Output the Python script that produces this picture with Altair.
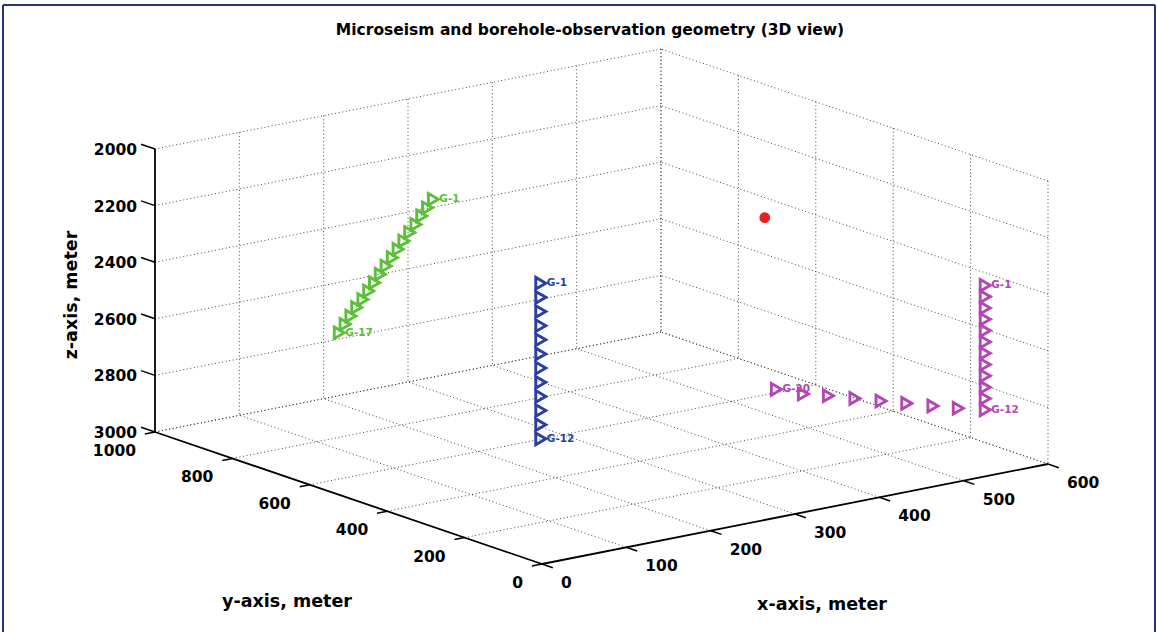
import altair as alt
import pandas as pd

# ---------------- data (metres) ----------------
X_TICKS = [0, 100, 200, 300, 400, 500, 600]
Y_TICKS = [0, 200, 400, 600, 800, 1000]
Z_TICKS = [2000, 2200, 2400, 2600, 2800, 3000]

# well 1 (green, deviated) G-1 .. G-17
GREEN_X = [180, 180, 180, 180, 180, 180, 180, 180, 180, 180, 180, 180, 180, 180, 180, 180, 180]
GREEN_Y = [673, 688, 703, 718, 734, 749, 764, 779, 795, 810, 825, 840, 855, 871, 886, 901, 916]
GREEN_Z = [2131, 2168, 2204, 2241, 2277, 2314, 2350, 2387, 2424, 2460, 2497, 2533, 2570, 2606, 2643, 2679, 2716]

# well 2 (blue, vertical) G-1 .. G-12
BLUE_X = [150] * 12
BLUE_Y = [330] * 12
BLUE_Z = [2250, 2300, 2350, 2400, 2450, 2500, 2550, 2600, 2650, 2700, 2750, 2800]

# well 3 (magenta, vertical + horizontal) G-1 .. G-20
PINK_X = [560] * 12 + [562, 548, 534, 520, 506, 492, 477, 467]
PINK_Y = [75] * 12 + [149, 184, 221, 257, 294, 332, 364, 412]
PINK_Z = [2380, 2420, 2460, 2500, 2540, 2580, 2620, 2660, 2700, 2740, 2780, 2820] + [2850] * 8

# microseismic event
EVENT_X = [450]
EVENT_Y = [405]
EVENT_Z = [2230]

WELLS = ["Well A", "Well B", "Well C"]
WELL_COLORS = ["#5cbf3a", "#2a3ea6", "#b445b4"]
EVENT_COLOR = "#e8201e"

# labelled receivers: (well, receiver index, text)
LABELS = [
    ("Well A", 0, "G-1"), ("Well A", 16, "G-17"),
    ("Well B", 0, "G-1"), ("Well B", 11, "G-12"),
    ("Well C", 0, "G-1"), ("Well C", 11, "G-12"), ("Well C", 19, "G-20"),
]

TITLE = "Microseism and borehole-observation geometry (3D view)"

# ---------------- orthographic 3D view (camera) ----------------
W, H = 1157, 632
O = (542.0, 564.0)                 # screen position of (x=0, y=0, z=3000)
EX = (506 / 600, -100 / 600)       # screen shift per metre of x
EY = (-387 / 1000, -132 / 1000)    # screen shift per metre of y
EZ = 283 / 1000                    # screen shift per metre of depth
ZREF = 3000


def sx(xf, yf):
    return f"{O[0]} + {EX[0]}*datum.{xf} + {EY[0]}*datum.{yf}"


def sy(xf, yf, zf):
    return f"{O[1]} + {EX[1]}*datum.{xf} + {EY[1]}*datum.{yf} + {EZ}*(datum.{zf} - {ZREF})"


XS = alt.Scale(domain=[0, W], nice=False, zero=False)
YS = alt.Scale(domain=[0, H], nice=False, zero=False, reverse=True)
FONT = "DejaVu Sans"


def pos(name="sx", name_y="sy"):
    return dict(x=alt.X(f"{name}:Q", scale=XS, axis=None),
                y=alt.Y(f"{name_y}:Q", scale=YS, axis=None))


def seg_chart(rows, **mark):
    df = pd.DataFrame(rows, columns=["x1", "y1", "z1", "x2", "y2", "z2"])
    return (alt.Chart(df)
            .transform_calculate(a=sx("x1", "y1"), b=sy("x1", "y1", "z1"),
                                 c=sx("x2", "y2"), d=sy("x2", "y2", "z2"))
            .mark_rule(**mark)
            .encode(x=alt.X("a:Q", scale=XS, axis=None),
                    y=alt.Y("b:Q", scale=YS, axis=None),
                    x2="c:Q", y2="d:Q"))


xmin, xmax = X_TICKS[0], X_TICKS[-1]
ymin, ymax = Y_TICKS[0], Y_TICKS[-1]
zmin, zmax = Z_TICKS[0], Z_TICKS[-1]

# grid lines on back planes (y=ymax wall, x=xmax wall, floor z=zmax)
grid = []
for xv in X_TICKS:
    if xv != xmin:
        grid.append((xv, ymax, zmin, xv, ymax, zmax))
        grid.append((xv, ymin, zmax, xv, ymax, zmax))
for yv in Y_TICKS:
    grid.append((xmax, yv, zmin, xmax, yv, zmax))
    if yv != ymin:
        grid.append((xmin, yv, zmax, xmax, yv, zmax))
for zv in Z_TICKS:
    grid.append((xmin, ymax, zv, xmax, ymax, zv))
    grid.append((xmax, ymin, zv, xmax, ymax, zv))

axes_rows = [
    (xmin, ymax, zmin, xmin, ymax, zmax),   # z axis
    (xmin, ymin, zmax, xmin, ymax, zmax),   # y axis
    (xmin, ymin, zmax, xmax, ymin, zmax),   # x axis
]
TX, TY, TZ = 28, 12, 36   # tick lengths in metres
tick_rows = ([(xv, ymin, zmax, xv, ymin - TX, zmax) for xv in X_TICKS] +
             [(xmin, yv, zmax, xmin - TY, yv, zmax) for yv in Y_TICKS] +
             [(xmin, ymax, zv, xmin, ymax + TZ, zv) for zv in Z_TICKS])

grid_layer = seg_chart(grid, color="#333333", strokeWidth=1, strokeDash=[1, 2.6], opacity=0.9)
axis_layer = seg_chart(axes_rows, color="#000000", strokeWidth=1.8)
tick_layer = seg_chart(tick_rows, color="#000000", strokeWidth=1.5)

tick_font = dict(font=FONT, fontWeight="bold", fontSize=15.5, color="#000000")

xlab = pd.DataFrame({"x": X_TICKS, "y": [ymin] * len(X_TICKS), "z": [zmax] * len(X_TICKS),
                     "t": [str(v) for v in X_TICKS]})
ylab = pd.DataFrame({"x": [xmin] * len(Y_TICKS), "y": Y_TICKS, "z": [zmax] * len(Y_TICKS),
                     "t": [str(v) for v in Y_TICKS]})
zlab = pd.DataFrame({"x": [xmin] * len(Z_TICKS), "y": [ymax] * len(Z_TICKS), "z": Z_TICKS,
                     "t": [str(v) for v in Z_TICKS]})


def label_layer(df, **mark):
    return (alt.Chart(df)
            .transform_calculate(sx=sx("x", "y"), sy=sy("x", "y", "z"))
            .mark_text(**tick_font, **mark)
            .encode(**pos(), text="t:N"))


xlab_layer = label_layer(xlab, align="left", baseline="middle", dx=19, dy=19)
ylab_layer = label_layer(ylab, align="right", baseline="middle", dx=-19, dy=19)
zlab_layer = label_layer(zlab, align="right", baseline="middle", dx=-18, dy=1)

# receivers
rows = []
for well, xs_, ys_, zs_ in zip(WELLS, [GREEN_X, BLUE_X, PINK_X], [GREEN_Y, BLUE_Y, PINK_Y],
                               [GREEN_Z, BLUE_Z, PINK_Z]):
    for i, (a, b, c) in enumerate(zip(xs_, ys_, zs_)):
        rows.append({"well": well, "i": i, "x": a, "y": b, "z": c})
rec = pd.DataFrame(rows)

color = alt.Color("well:N", scale=alt.Scale(domain=WELLS, range=WELL_COLORS), legend=None)

rec_layer = (alt.Chart(rec)
             .transform_calculate(sx=sx("x", "y"), sy=sy("x", "y", "z"))
             .mark_point(shape="triangle-right", filled=False, size=135, strokeWidth=2.9, opacity=1)
             .encode(**pos(), color=color))

lab_rows = []
for well, i, t in LABELS:
    r = rec[(rec.well == well) & (rec.i == i)].iloc[0]
    lab_rows.append({"well": well, "x": r.x, "y": r.y, "z": r.z, "t": t})
rec_lab = pd.DataFrame(lab_rows)
rec_lab_layer = (alt.Chart(rec_lab)
                 .transform_calculate(sx=sx("x", "y"), sy=sy("x", "y", "z"))
                 .mark_text(font=FONT, fontWeight="bold", fontSize=10.5, align="left",
                            baseline="middle", dx=6)
                 .encode(**pos(), text="t:N", color=color))

ev = pd.DataFrame({"x": EVENT_X, "y": EVENT_Y, "z": EVENT_Z})
ev_layer = (alt.Chart(ev)
            .transform_calculate(sx=sx("x", "y"), sy=sy("x", "y", "z"))
            .mark_point(shape="circle", filled=True, size=115, color=EVENT_COLOR, opacity=1)
            .encode(**pos()))

# titles
one = pd.DataFrame({"k": [0]})
title_layer = alt.Chart(one).mark_text(
    text=TITLE, font=FONT, fontWeight="bold", fontSize=15.5, align="center", baseline="middle"
).encode(x=alt.value(590), y=alt.value(30))
xt_layer = alt.Chart(one).mark_text(
    text="x-axis, meter", font=FONT, fontWeight="bold", fontSize=17.5, align="center", baseline="middle"
).encode(x=alt.value(822), y=alt.value(605))
yt_layer = alt.Chart(one).mark_text(
    text="y-axis, meter", font=FONT, fontWeight="bold", fontSize=17.5, align="center", baseline="middle"
).encode(x=alt.value(287), y=alt.value(602))
zt_layer = alt.Chart(one).mark_text(
    text="z-axis, meter", font=FONT, fontWeight="bold", fontSize=17.5, align="center",
    baseline="middle", angle=270
).encode(x=alt.value(72), y=alt.value(295))

# frame
FRAME = "#27347a"
frame_top = alt.Chart(one).mark_rule(color=FRAME, strokeWidth=2).encode(
    x=alt.value(3), x2=alt.value(1155), y=alt.value(5), y2=alt.value(5))
frame_left = alt.Chart(one).mark_rule(color=FRAME, strokeWidth=2).encode(
    x=alt.value(3), x2=alt.value(3), y=alt.value(5), y2=alt.value(632))
frame_right = alt.Chart(one).mark_rule(color=FRAME, strokeWidth=2).encode(
    x=alt.value(1155), x2=alt.value(1155), y=alt.value(5), y2=alt.value(632))

chart = alt.layer(
    grid_layer, axis_layer, tick_layer, xlab_layer, ylab_layer, zlab_layer,
    rec_layer, ev_layer, rec_lab_layer,
    title_layer, xt_layer, yt_layer, zt_layer,
    frame_top, frame_left, frame_right,
).properties(
    width=W, height=H, padding=0, autosize=alt.AutoSizeParams(type="none"),
    background="#ffffff",
).configure_view(stroke=None)

chart.save("out.html", embed_options={"renderer": "svg", "actions": False})
